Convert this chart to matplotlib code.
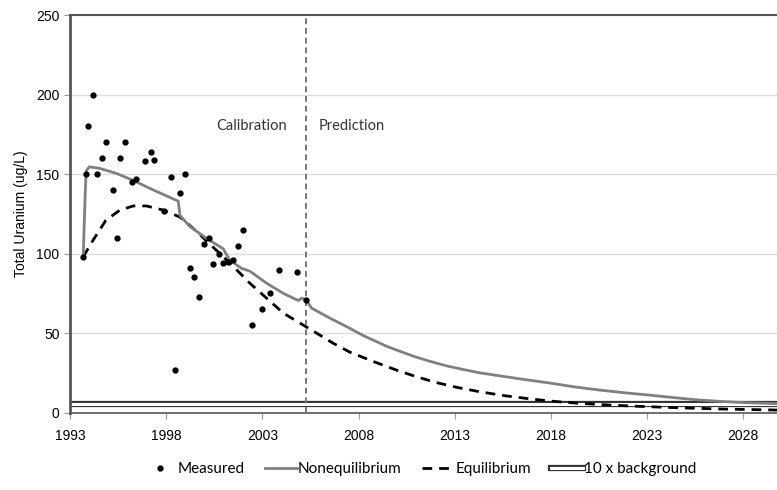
import matplotlib
matplotlib.use("Agg")
import matplotlib.pyplot as plt
from matplotlib.lines import Line2D
from matplotlib.legend_handler import HandlerTuple

# measured samples (year, ug/L)
meas_year = [1993.69, 1993.83, 1993.92, 1994.21, 1994.42, 1994.66, 1994.87, 1995.22,
             1995.44, 1995.60, 1995.87, 1996.24, 1996.43, 1996.91, 1997.19, 1997.38,
             1997.90, 1998.23, 1998.46, 1998.72, 1998.98, 1999.22, 1999.46, 1999.70,
             1999.96, 2000.21, 2000.45, 2000.73, 2000.95, 2001.23, 2001.46, 2001.72,
             2001.98, 2002.46, 2002.98, 2003.40, 2003.86, 2004.80, 2005.27]
meas_val = [98, 150, 180, 200, 150, 160, 170, 140,
            110, 160, 170, 145, 147, 158, 164, 159,
            127, 148, 27, 138, 150, 91, 85, 73,
            106, 110, 93.6, 99.6, 94, 94.8, 96, 105,
            115, 55, 65, 75, 90, 88.5, 71]

# nonequilibrium model
neq_year = [1993.69, 1993.80, 1993.85, 1994.0, 1994.56, 1995.43, 1996.3, 1997.16,
            1998.63, 1998.72, 1999.24, 2000.1, 2000.97, 2001.3, 2001.91, 2002.35,
            2003.22, 2004.09, 2004.87, 2005.04, 2005.27, 2005.56, 2006.5, 2007.55,
            2008.24, 2009.5, 2010.84, 2011.7, 2012.5, 2013.4, 2014.3, 2015.4,
            2016.5, 2018.0, 2019.2, 2020.5, 2021.8, 2023.1, 2024.4, 2025.7,
            2027.0, 2028.0, 2029.75]
neq_val = [98, 140, 152, 154.6, 153.6, 150.4, 146, 141,
           133, 124, 117, 109.6, 103, 96, 90.8, 89,
           81.4, 75, 70.5, 72, 71, 65.7, 59.5, 53,
           48.5, 41.5, 35.5, 32.3, 29.6, 27.2, 25, 23,
           21, 18.5, 16.2, 14.2, 12.5, 11, 9.4, 7.9,
           6.9, 6.3, 5.6]

# equilibrium model
eq_year = [1993.69, 1994.21, 1994.87, 1995.6, 1996.3, 1996.97, 1997.85, 1998.72,
           1999.58, 2000.62, 2001.49, 2002.35, 2003.22, 2004.09, 2005.27, 2005.82,
           2006.7, 2007.55, 2008.8, 2009.98, 2011.0, 2012.0, 2013.1, 2014.3,
           2015.6, 2017.0, 2018.2, 2019.5, 2020.8, 2022.0, 2023.3, 2024.7,
           2027.0, 2029.75]
eq_val = [98, 108.6, 121, 127.4, 130, 130, 127.4, 123,
          114, 102, 92, 81.4, 72, 62.6, 54, 50,
          43.5, 38, 32, 26.7, 22.6, 19, 15.9, 13.1,
          10.6, 8.5, 7.0, 5.8, 4.9, 4.2, 3.6, 3,
          2.2, 1.6]

background_10x = 5.4
split_year = 2005.27
x_ticks = [1993, 1998, 2003, 2008, 2013, 2018, 2023, 2028]
y_ticks = [0, 50, 100, 150, 200, 250]

txt_font = ["Lato", "DejaVu Sans"]
num_font = ["Liberation Sans", "DejaVu Sans"]

fig = plt.figure(figsize=(7.77, 4.90), dpi=100)
ax = fig.add_axes([0.090, 0.158, 0.910, 0.811])

ax.set_xlim(1993, 2029.75)
ax.set_ylim(0, 250)

for y in y_ticks[1:-1]:
    ax.axhline(y, color="#dddddd", lw=1.0, zorder=0)

# 10 x background (double line)
ax.axhline(background_10x, color="#333333", lw=4.5, zorder=2)
ax.axhline(background_10x, color="white", lw=2.2, zorder=2)

ax.plot(eq_year, eq_val, color="black", lw=2.0, ls=(0, (3.5, 2.5)), zorder=3)
ax.plot(neq_year, neq_val, color="#808080", lw=2.0, zorder=4)
ax.plot(meas_year, meas_val, "o", color="black", ms=3.5, zorder=5)

ax.axvline(split_year, color="#777777", lw=1.4, ls=(0, (3, 2)), zorder=3)

ax.text(2004.3, 180, "Calibration", ha="right", va="center", fontsize=10.5,
        family=txt_font, color="#333333")
ax.text(2005.9, 180, "Prediction", ha="left", va="center", fontsize=10.5,
        family=txt_font, color="#333333")

ax.set_xticks(x_ticks)
ax.set_yticks(y_ticks)
ax.tick_params(axis="both", direction="out", length=4, color="#999999",
               labelsize=10, labelcolor="black")
for lab in ax.get_xticklabels() + ax.get_yticklabels():
    lab.set_family(num_font)
ax.tick_params(axis="x", pad=8)

for side in ["left", "top", "bottom", "right"]:
    ax.spines[side].set_color("#555555")
ax.spines["left"].set_linewidth(2.0)
ax.spines["top"].set_linewidth(1.5)
ax.spines["bottom"].set_linewidth(1.2)
ax.spines["right"].set_visible(False)

ax.set_ylabel("Total Uranium (ug/L)", fontsize=10, family=num_font, labelpad=6)

h_meas = Line2D([], [], marker="o", ls="none", color="black", ms=3.5)
h_neq = Line2D([], [], color="#808080", lw=2.0)
h_eq = Line2D([], [], color="black", lw=2.0, ls=(0, (3.5, 2.5)))
h_bg = (Line2D([], [], color="#333333", lw=4.5), Line2D([], [], color="white", lw=2.2))
fig.legend([h_meas, h_neq, h_eq, h_bg],
           ["Measured", "Nonequilibrium", "Equilibrium", "10 x background"],
           handler_map={tuple: HandlerTuple(ndivide=1)},
           loc="center", bbox_to_anchor=(0.541, 0.043), ncol=4, frameon=False,
           prop={"family": txt_font, "size": 11}, handlelength=2.1,
           handletextpad=0.1, columnspacing=1.3)

fig.savefig("out.png", dpi=100)
